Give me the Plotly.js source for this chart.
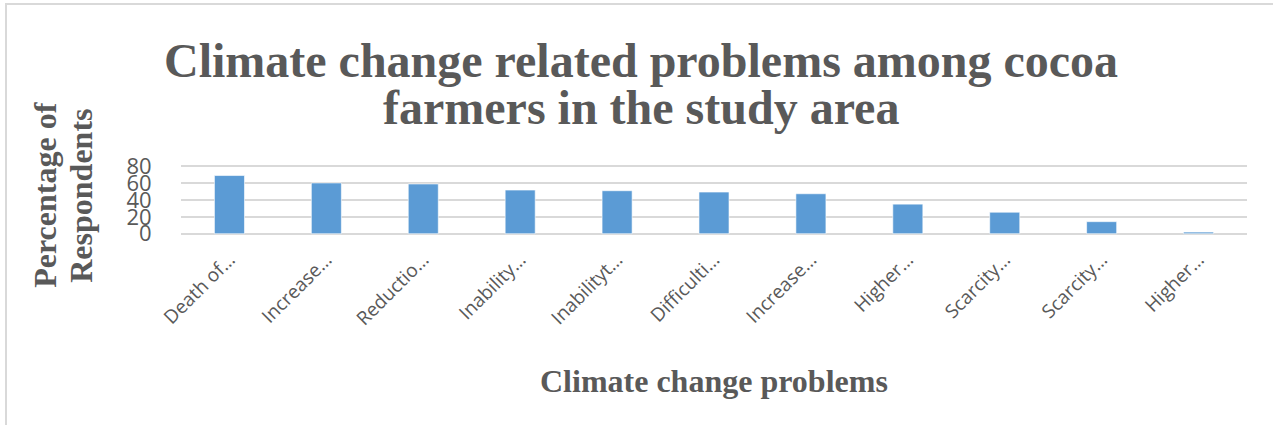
<!DOCTYPE html>
<html>
<head>
<meta charset="utf-8">
<script src="https://cdn.plot.ly/plotly-3.0.1.min.js"></script>
<style>
html,body{margin:0;padding:0;background:#fff;overflow:hidden;}
#chart{width:1273px;height:425px;}
#frame{position:absolute;left:5px;top:3px;width:1300px;height:500px;border:2px solid #d9d9d9;pointer-events:none;}
</style>
</head>
<body>
<div id="chart"></div>
<div id="frame"></div>
<script>
const categories = ["Death of…", "Increase…", "Reductio…", "Inability…", "Inabilityt…", "Difficulti…", "Increase…", "Higher…", "Scarcity…", "Scarcity…", "Higher…"];
const percentages = [69, 60.2, 59, 51.8, 51, 49.4, 47.4, 35.1, 25.5, 14.3, 2];
const yTicks = [0, 20, 40, 60, 80];
const titleLines = ["Climate change related problems among cocoa", "farmers in the study area"];
const yTitleLines = ["Percentage of", "Respondents"];
const xTitle = "Climate change problems";

const positions = categories.map((c, i) => i);

const trace = {
  type: 'bar',
  x: positions,
  y: percentages,
  marker: {color: '#5B9BD5', line: {color: 'rgba(255,255,255,0.6)', width: 1}},
  hoverinfo: 'y'
};

const grey = '#595959';
const serifBold = (size) => ({family: 'Liberation Serif', size: size, color: grey, weight: 'bold'});
const H = 425, W = 1273;
const yMin = -1.5, yMax = 81.5;
const pxPerUnit = 0.8375;
const plotL = 181, plotR = 1247;
const plotT = 166.7 - (yMax - 80) * pxPerUnit;
const plotB = 233.7 - yMin * pxPerUnit;

const annotations = [
  {text: titleLines[0], font: serifBold(48), xref: 'paper', yref: 'paper', showarrow: false, xanchor: 'center', yanchor: 'middle', _px: 641, _py: 62},
  {text: titleLines[1], font: serifBold(48), xref: 'paper', yref: 'paper', showarrow: false, xanchor: 'center', yanchor: 'middle', _px: 641, _py: 108},
  {text: yTitleLines[0], font: serifBold(32), xref: 'paper', yref: 'paper', textangle: -90, showarrow: false, xanchor: 'center', yanchor: 'middle', _px: 45, _py: 196},
  {text: yTitleLines[1], font: serifBold(32), xref: 'paper', yref: 'paper', textangle: -90, showarrow: false, xanchor: 'center', yanchor: 'middle', _px: 81, _py: 196},
  {text: xTitle, font: serifBold(32), xref: 'paper', yref: 'paper', showarrow: false, xanchor: 'center', yanchor: 'middle', _px: 714, _py: 380}
];
annotations.forEach(a => {
  a.x = (a._px - plotL) / (plotR - plotL);
  a.y = (plotB - a._py) / (plotB - plotT);
  delete a._px; delete a._py;
});

const layout = {
  width: W, height: H,
  margin: {l: plotL, r: W - plotR, t: plotT, b: H - plotB, pad: 0},
  paper_bgcolor: '#fff', plot_bgcolor: '#fff',
  showlegend: false,
  bargap: 0.69,
  annotations: annotations,
  xaxis: {
    tickvals: positions, ticktext: categories,
    range: [-0.5, categories.length - 0.5],
    tickangle: -45,
    tickfont: {family: 'Open Sans', size: 19, color: grey},
    showgrid: false, zeroline: false, showline: false,
    ticks: 'outside', tickcolor: 'rgba(0,0,0,0)', ticklen: 5
  },
  yaxis: {
    range: [yMin, yMax],
    tickvals: yTicks,
    tickfont: {family: 'Open Sans', size: 22, color: grey},
    showgrid: true, gridcolor: '#d9d9d9', gridwidth: 2,
    zeroline: true, zerolinecolor: '#d9d9d9', zerolinewidth: 2, showline: false,
    ticks: 'outside', tickcolor: 'rgba(0,0,0,0)', ticklen: 24
  }
};

Plotly.newPlot('chart', [trace], layout, {displayModeBar: false, staticPlot: true});
</script>
</body>
</html>
